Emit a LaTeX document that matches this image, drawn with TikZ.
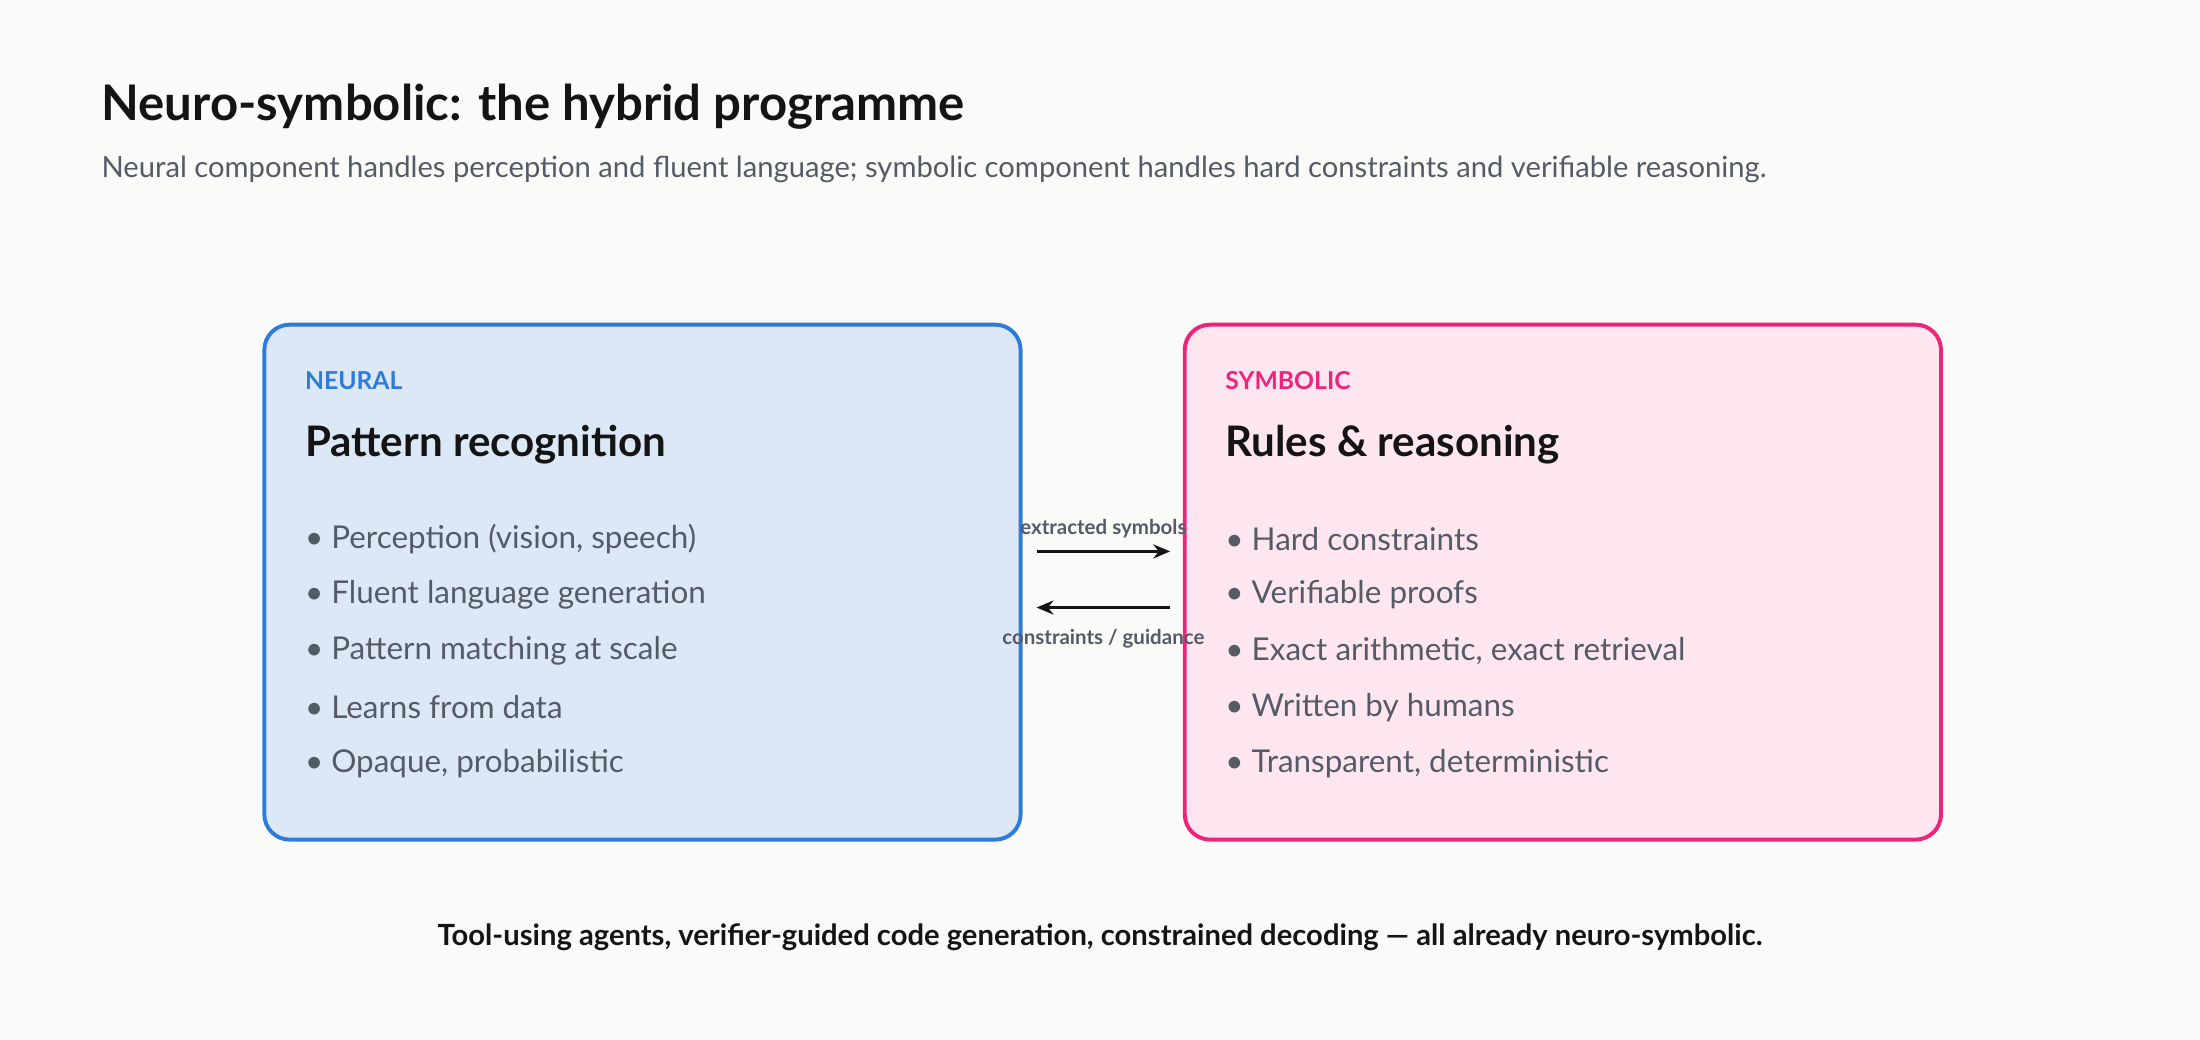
\documentclass[tikz,border=0pt]{standalone}
\usepackage{fontspec}
\setmainfont{Lato}
\usetikzlibrary{positioning,arrows.meta}
\definecolor{bgc}{HTML}{FAFAF8}
\definecolor{neuralc}{HTML}{2F7BD8}
\definecolor{neuralf}{HTML}{DDE8F7}
\definecolor{symbc}{HTML}{F0237A}
\definecolor{symbf}{HTML}{FDE6F0}
\definecolor{greyc}{HTML}{555B66}
\definecolor{inkc}{HTML}{141414}
\tikzset{
  box/.style={draw=#1, line width=1.4pt, rounded corners=9pt, minimum width=269.5pt, minimum height=183.5pt, anchor=north west},
  tag/.style={anchor=west, font=\fontsize{8.8}{10}\selectfont\bfseries},
  head/.style={anchor=west, text=inkc, font=\fontsize{15}{17}\selectfont\bfseries},
  item/.style={anchor=west, text=greyc, font=\fontsize{11.2}{13}\selectfont},
  lbl/.style={text=greyc, font=\fontsize{7.3}{8}\selectfont\bfseries},
  flow/.style={-{Stealth[length=6pt,width=5pt]}, line width=1.1pt, draw=inkc}
}
\begin{document}
\begin{tikzpicture}[x=0.5pt,y=-0.5pt]
\fill[bgc] (0,0) rectangle (1568,741);
\useasboundingbox (0,0) rectangle (1568,741);

\node[anchor=west, text=inkc, font=\fontsize{17.5}{19}\selectfont\bfseries, inner sep=0] (title) at (72,76) {Neuro-symbolic: the hybrid programme};
\node[anchor=west, text=greyc, font=\fontsize{10.4}{12}\selectfont, inner sep=0] (sub) at (72,121) {Neural component handles perception and fluent language; symbolic component handles hard constraints and verifiable reasoning.};

% boxes
\node[box=neuralc, fill=neuralf] (neural) at (187,230) {};
\node[box=symbc, fill=symbf] (symb) at (843,230) {};

\node[tag, text=neuralc, inner sep=0] at (217,271) {NEURAL};
\node[head, inner sep=0] at (217,317) {Pattern recognition};
\node[tag, text=symbc, inner sep=0] at (873,271) {SYMBOLIC};
\node[head, inner sep=0] at (873,317) {Rules \& reasoning};

\foreach \t [count=\i] in {{Perception (vision, speech)},Fluent language generation,Pattern matching at scale,Learns from data,{Opaque, probabilistic}}
  \node[item, inner sep=0] at (217,344+40*\i) {\textbullet\ \t};
\foreach \t [count=\i] in {Hard constraints,Verifiable proofs,{Exact arithmetic, exact retrieval},Written by humans,{Transparent, deterministic}}
  \node[item, inner sep=0] at (873,344+40*\i) {\textbullet\ \t};

% connectors
\coordinate (nr1) at ([xshift=5pt, yshift=-81.5pt]neural.north east);
\coordinate (sl1) at ([xshift=-4.5pt, yshift=-81.5pt]symb.north west);
\coordinate (nr2) at ([xshift=5pt, yshift=-101.5pt]neural.north east);
\coordinate (sl2) at ([xshift=-4.5pt, yshift=-101.5pt]symb.north west);
\draw[flow] (nr1) -- node[lbl, above=1pt] {extracted symbols} (sl1);
\draw[flow] (sl2) -- node[lbl, below=4pt] {constraints / guidance} (nr2);

\node[text=inkc, font=\fontsize{10.4}{12}\selectfont\bfseries, inner sep=0] (foot) at (784,668) {Tool-using agents, verifier-guided code generation, constrained decoding — all already neuro-symbolic.};
\end{tikzpicture}
\end{document}
